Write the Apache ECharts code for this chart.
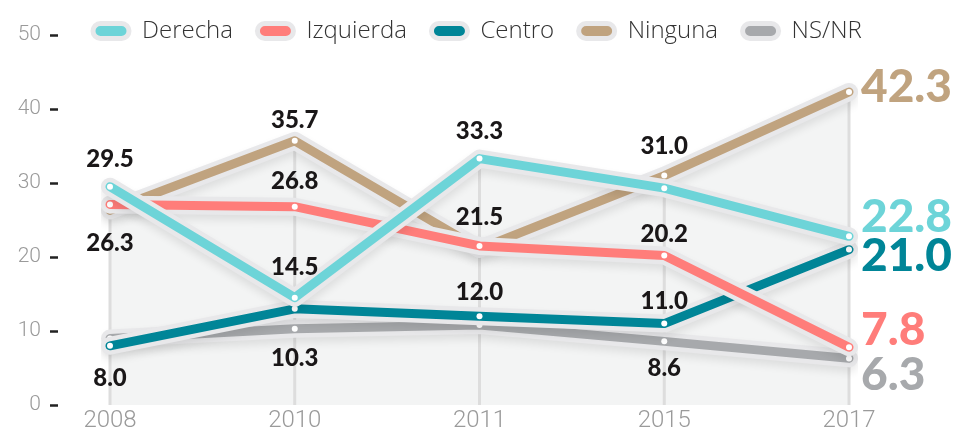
<!DOCTYPE html>
<html>
<head>
<meta charset="utf-8">
<script src="https://cdn.jsdelivr.net/npm/echarts@6/dist/echarts.min.js"></script>
<style>
html, body { margin: 0; padding: 0; background: #fff; }
#chart { width: 960px; height: 431px; }
</style>
</head>
<body>
<div id="chart"></div>
<script>
// datos
var years = ['2008', '2010', '2011', '2015', '2017'];
var derecha = [29.5, 14.5, 33.3, 29.3, 22.8];
var izquierda = [27.1, 26.8, 21.5, 20.2, 7.8];
var centro = [8.0, 13.0, 12.0, 11.0, 21.0];
var ninguna = [26.3, 35.7, 21.1, 31.0, 42.3];
var nsnr = [9.0, 10.3, 10.8, 8.6, 6.3];
var yMin = 0, yMax = 50, yStep = 10;

var myChart = echarts.init(document.getElementById('chart'));

// orden de dibujo: de abajo hacia arriba
var lines = [
    { name: 'NS/NR', data: nsnr, color: '#a7a9ac', dy: [null, 29, null, 27, 17] },
    { name: 'Ninguna', data: ninguna, color: '#c0a37f', dy: [33, -21, null, -29, -5] },
    { name: 'Centro', data: centro, color: '#008597', dy: [32, null, -24, -22, 7] },
    { name: 'Izquierda', data: izquierda, color: '#ff7d7a', dy: [null, -25, -29, -21, -17] },
    { name: 'Derecha', data: derecha, color: '#6dd4d8', dy: [-27, -30, -27, null, -19] }
];
var legendOrder = ['Derecha', 'Izquierda', 'Centro', 'Ninguna', 'NS/NR'];

var tops = years.map(function (y, i) {
    return Math.max.apply(null, lines.map(function (l) { return l.data[i]; }));
});

var series = [];
// fondo gris bajo las líneas
lines.forEach(function (l) {
    series.push({
        name: l.name, type: 'line', data: l.data, z: 1, silent: true,
        symbol: 'none', lineStyle: { width: 0 },
        areaStyle: { color: '#f3f4f4', opacity: 1 }
    });
});
// líneas verticales
series.push({
    name: 'grid', type: 'bar', data: tops, z: 2, silent: true,
    barWidth: 3, itemStyle: { color: '#dddddd' }
});
lines.forEach(function (l, k) {
    var last = l.data.length - 1;
    series.push({
        name: l.name, type: 'line', data: l.data, z: 10 + 2 * k, silent: true,
        symbol: 'none',
        lineStyle: {
            width: 18, color: '#e8e8ea', cap: 'round', join: 'round',
            shadowColor: 'rgba(0,0,0,0.09)', shadowBlur: 8, shadowOffsetY: 5
        }
    });
    series.push({
        name: l.name, type: 'line', z: 11 + 2 * k,
        symbol: 'circle', symbolSize: 6, showAllSymbol: true,
        itemStyle: { color: '#fff' },
        lineStyle: { width: 9, color: l.color, cap: 'round', join: 'round' },
        data: l.data.map(function (v, i) {
            var item = { value: v };
            if (i === last) {
                item.label = {
                    show: true, position: 'right', distance: 9, offset: [0, l.dy[i]],
                    formatter: v.toFixed(1), color: l.color,
                    fontFamily: 'Lato', fontWeight: 900, fontSize: 46
                };
            } else if (l.dy[i] !== null) {
                item.label = {
                    show: true, position: 'inside', offset: [0, l.dy[i]],
                    formatter: v.toFixed(1), color: '#1a1718',
                    fontFamily: 'Lato', fontWeight: 900, fontSize: 24
                };
            }
            return item;
        })
    });
});

var colorOf = {};
lines.forEach(function (l) { colorOf[l.name] = l.color; });

option = {
    animation: false,
    backgroundColor: '#fff',
    grid: { left: 110, right: 111, top: 35, bottom: 26, outerBoundsMode: 'none' },
    legend: {
        left: 85.5, top: 14,
        itemWidth: 36, itemHeight: 15, itemGap: 22,
        icon: 'path://M7.5,0H28.5A7.5,7.5,0,0,1,28.5,15H7.5A7.5,7.5,0,0,1,7.5,0Z',
        itemStyle: { borderColor: '#e8e8ea', borderWidth: 5 },
        textStyle: { color: '#333', fontFamily: 'Open Sans', fontWeight: 300, fontSize: 24, padding: [0, 0, 0, 8] },
        data: legendOrder.map(function (n) {
            return { name: n, itemStyle: { color: colorOf[n], borderColor: '#e8e8ea', borderWidth: 5 } };
        })
    },
    xAxis: {
        type: 'category', data: years, boundaryGap: false,
        axisLine: { show: false }, axisTick: { show: false }, splitLine: { show: false },
        axisLabel: { color: '#9a9a9a', fontFamily: 'Roboto', fontWeight: 300, fontSize: 24, margin: 4 }
    },
    yAxis: {
        type: 'value', min: yMin, max: yMax, interval: yStep, offset: 52,
        axisLine: { show: false },
        axisTick: { show: true, length: 8, lineStyle: { color: '#222', width: 2.5 } },
        splitLine: { show: false },
        axisLabel: { color: '#9a9a9a', fontFamily: 'Roboto', fontWeight: 300, fontSize: 21, margin: 17 }
    },
    series: series
};

myChart.setOption(option);
window.addEventListener('resize', function () {
    myChart.resize();
});
</script>
</body>
</html>
